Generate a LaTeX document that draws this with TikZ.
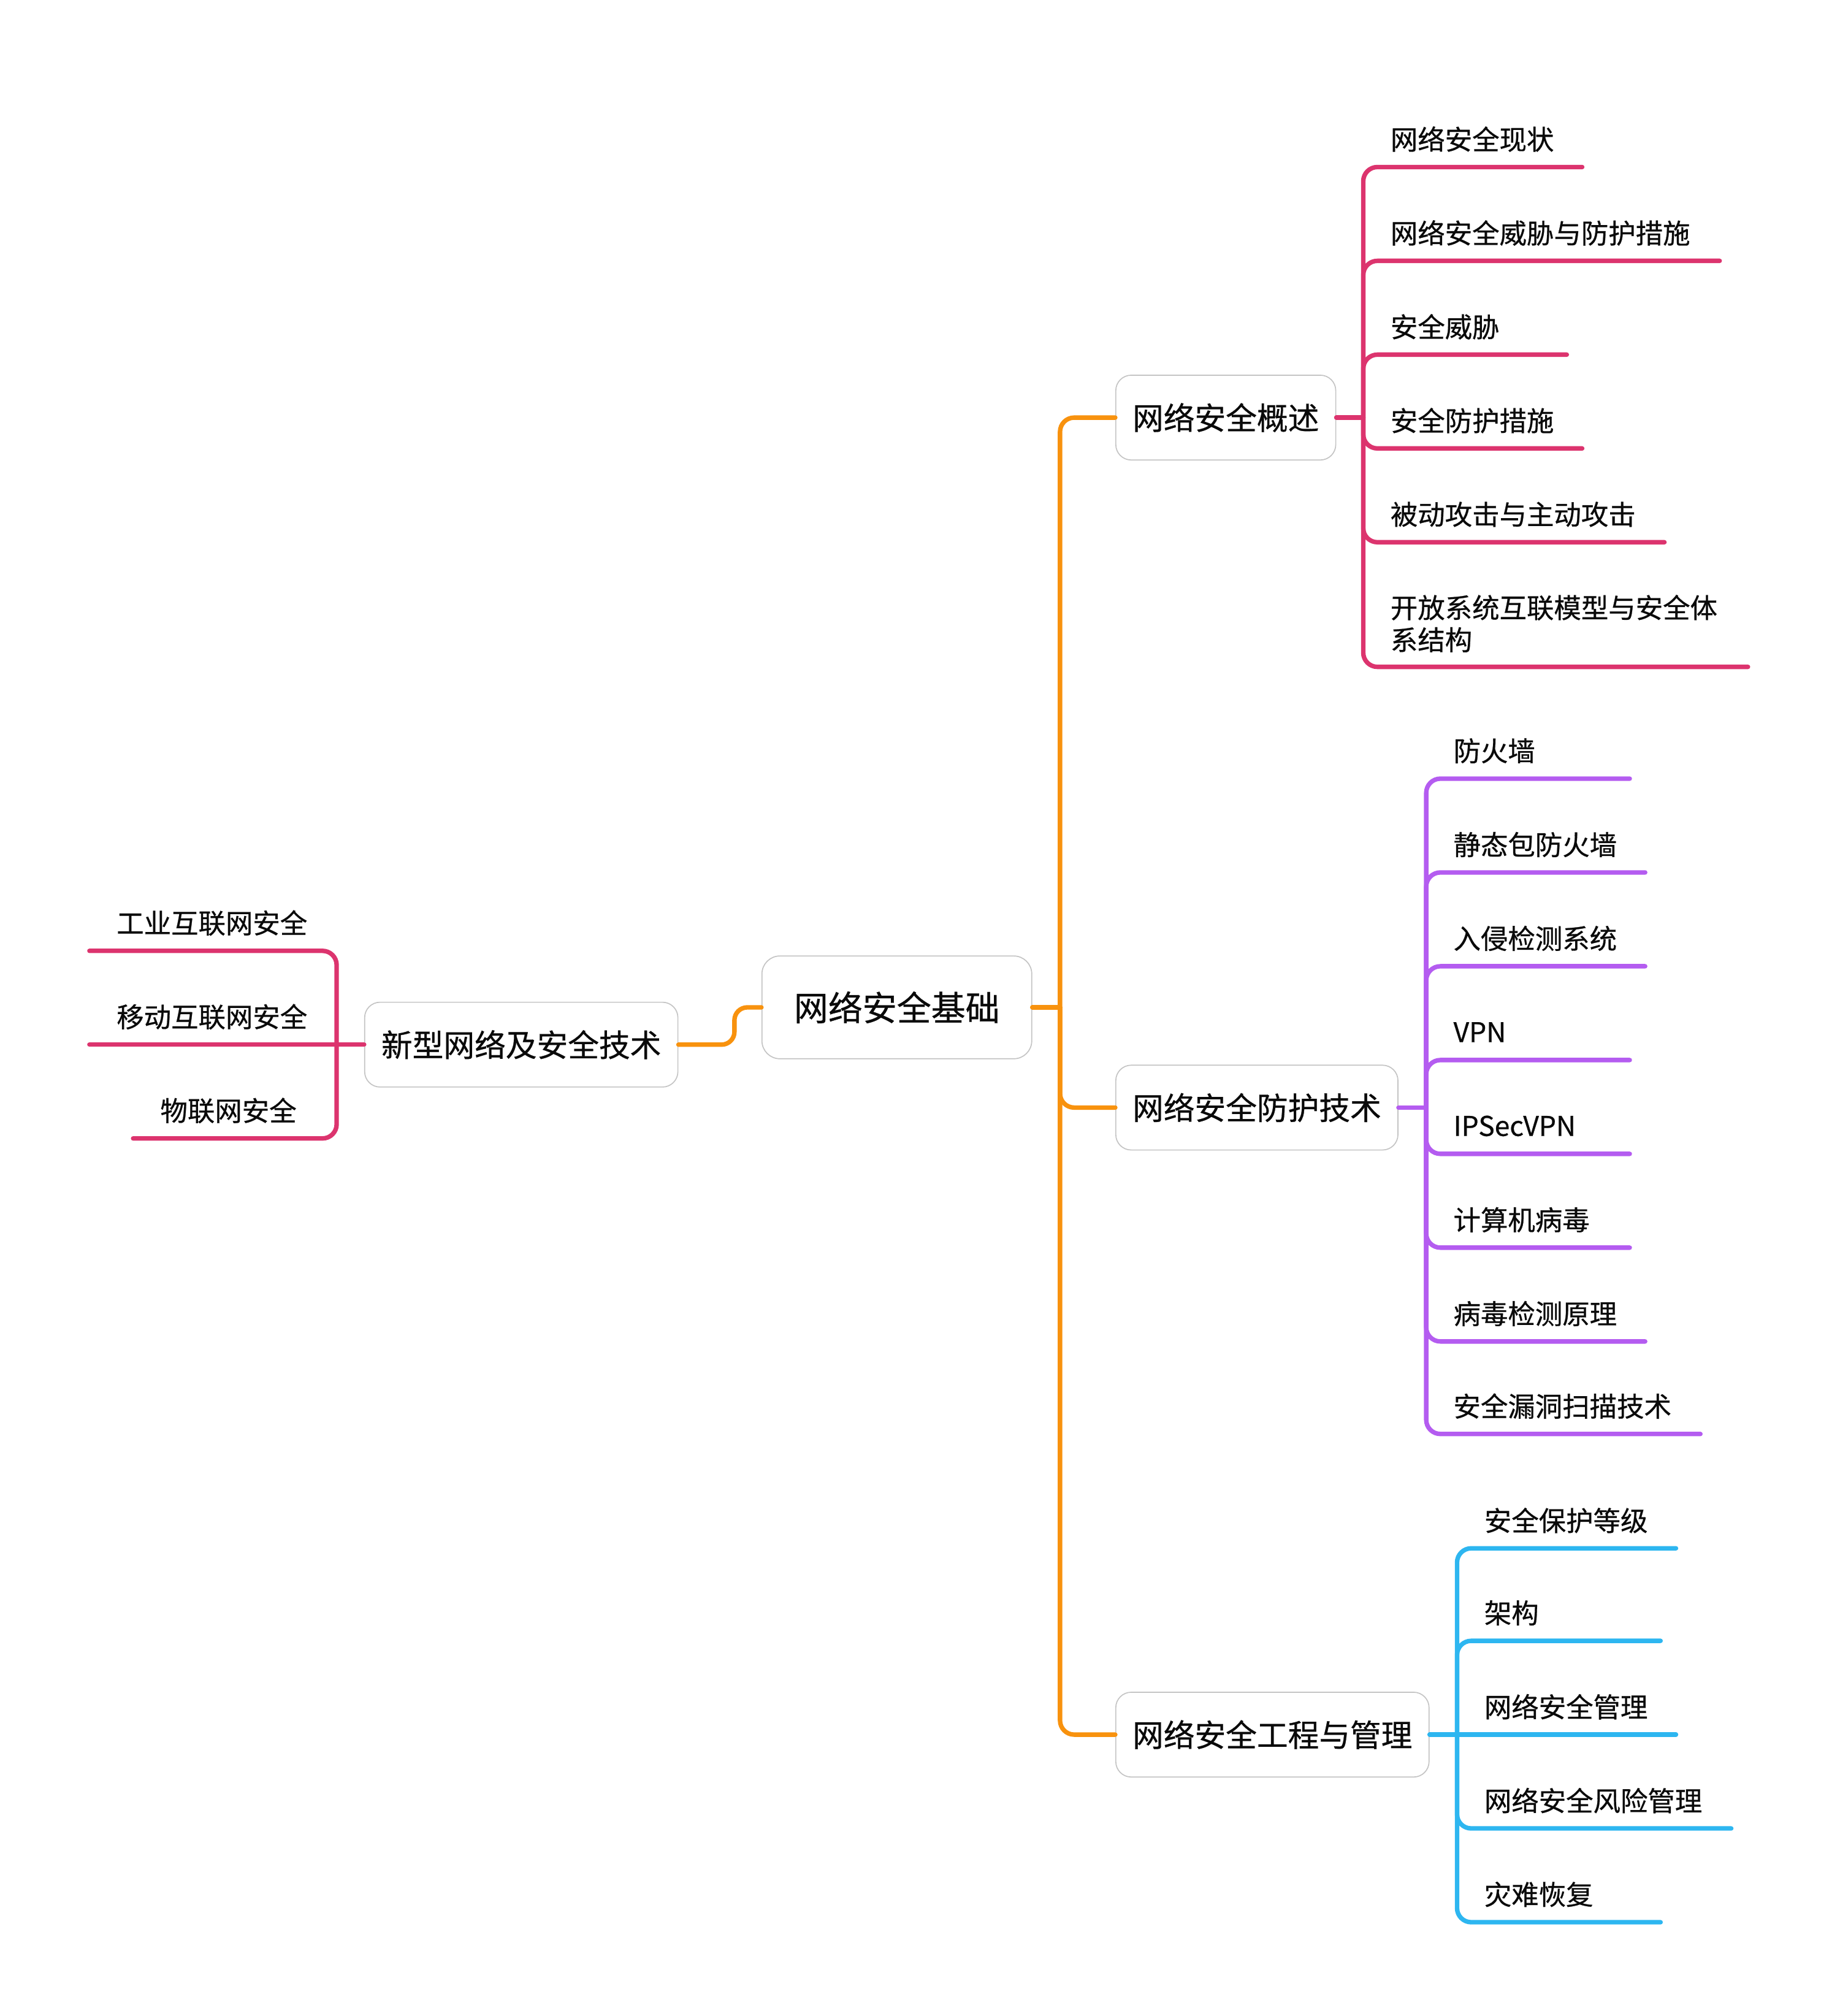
\documentclass[tikz,border=0pt]{standalone}
\usepackage{fontspec}
\setmainfont{Noto Sans CJK SC}[FakeBold=0.6]
\usetikzlibrary{calc}
\definecolor{corange}{RGB}{248,146,14}
\definecolor{cpink}{RGB}{220,52,110}
\definecolor{cpurple}{RGB}{180,92,240}
\definecolor{cblue}{RGB}{45,182,240}
\definecolor{cborder}{RGB}{196,196,196}
\definecolor{ctext}{RGB}{10,10,10}
\begin{document}
\begin{tikzpicture}[x=1pt,y=-1pt,
  rootbox/.style={draw=cborder, line width=0.8pt, fill=white, rounded corners=14pt,
    minimum width=210pt, minimum height=80pt, inner sep=0pt, text=ctext,
    font=\fontsize{26.7}{30}\selectfont},
  topicbox/.style={draw=cborder, line width=0.8pt, fill=white, rounded corners=12pt,
    minimum height=66pt, inner xsep=13pt, inner ysep=0pt, text=ctext,
    font=\fontsize{24.2}{28}\selectfont},
  leaf/.style={inner xsep=21pt, inner ysep=0pt, minimum height=43pt, align=left,
    text width=#1, text=ctext, font=\fontsize{21.2}{25}\selectfont},
  link/.style={line width=3.5pt, line cap=round, line join=round, rounded corners=11pt},
]
\useasboundingbox (0,0) rectangle (1432,1569);

% central and main topics
\node[rootbox] (root) at (698,784) {网络安全基础};
\node[topicbox, anchor=east] (X) at (528,813) {新型网络及安全技术};
\node[topicbox, anchor=west] (A) at (868,325) {网络安全概述};
\node[topicbox, anchor=west] (B) at (868,862) {网络安全防护技术};
\node[topicbox, anchor=west] (C) at (868,1350) {网络安全工程与管理};

% junction points
\coordinate (jR) at (825,784);
\coordinate (jX) at (262,813);
\coordinate (jA) at (1061,325);
\coordinate (jB) at (1110,862);
\coordinate (jC) at (1134,1350);

% leaves of 网络安全概述
\node[leaf=128pt, anchor=south west] (a1) at (1061,130) {网络安全现状};
\node[leaf=235pt, anchor=south west] (a2) at (1061,203) {网络安全威胁与防护措施};
\node[leaf=116pt, anchor=south west] (a3) at (1061,276) {安全威胁};
\node[leaf=128pt, anchor=south west] (a4) at (1061,349) {安全防护措施};
\node[leaf=192pt, anchor=south west] (a5) at (1061,422) {被动攻击与主动攻击};
\node[leaf=257pt, anchor=south west, minimum height=67pt] (a6) at (1061,519) {开放系统互联模型与安全体\\系结构};

% leaves of 网络安全防护技术
\node[leaf=116pt, anchor=south west] (b1) at (1110,606) {防火墙};
\node[leaf=128pt, anchor=south west] (b2) at (1110,679) {静态包防火墙};
\node[leaf=128pt, anchor=south west] (b3) at (1110,752) {入侵检测系统};
\node[leaf=116pt, anchor=south west] (b4) at (1110,825) {VPN};
\node[leaf=116pt, anchor=south west] (b5) at (1110,898) {IPSecVPN};
\node[leaf=116pt, anchor=south west] (b6) at (1110,971) {计算机病毒};
\node[leaf=128pt, anchor=south west] (b7) at (1110,1044) {病毒检测原理};
\node[leaf=171pt, anchor=south west] (b8) at (1110,1116) {安全漏洞扫描技术};

% leaves of 网络安全工程与管理
\node[leaf=128pt, anchor=south west] (c1) at (1134,1205) {安全保护等级};
\node[leaf=116pt, anchor=south west] (c2) at (1134,1277) {架构};
\node[leaf=128pt, anchor=south west] (c3) at (1134,1350) {网络安全管理};
\node[leaf=171pt, anchor=south west] (c4) at (1134,1423) {网络安全风险管理};
\node[leaf=116pt, anchor=south west] (c5) at (1134,1496) {灾难恢复};

% leaves of 新型网络及安全技术
\node[leaf=150pt, anchor=south east] (x1) at (262,740) {工业互联网安全};
\node[leaf=150pt, anchor=south east] (x2) at (262,813) {移动互联网安全};
\node[leaf=116pt, anchor=south east] (x3) at (262,886) {物联网安全};

% orange connectors
\draw[link, corange] (root.east) -- (jR);
\draw[link, corange] (jR) |- (A.west);
\draw[link, corange] (jR) |- (B.west);
\draw[link, corange] (jR) |- (C.west);
\draw[link, corange, rounded corners=10pt] (root.west) -- ++(-21,0) |- (X.east);

% pink connectors (概述)
\draw[link, cpink] (A.east) -- (jA);
\foreach \n in {a1,a2,a3,a4,a5,a6}{
  \draw[link, cpink] (jA) |- (\n.south east);
}

% purple connectors
\draw[link, cpurple] (B.east) -- (jB);
\foreach \n in {b1,b2,b3,b4,b5,b6,b7,b8}{
  \draw[link, cpurple] (jB) |- (\n.south east);
}

% blue connectors
\draw[link, cblue] (C.east) -- (jC);
\foreach \n in {c1,c2,c4,c5}{
  \draw[link, cblue] (jC) |- (\n.south east);
}
\draw[link, cblue] (jC) -- (c3.south east);

% pink connectors (新型)
\draw[link, cpink] (X.west) -- (jX);
\draw[link, cpink] (jX) |- (x1.south west);
\draw[link, cpink] (jX) -- (x2.south west);
\draw[link, cpink] (jX) |- (x3.south west);
\end{tikzpicture}
\end{document}
